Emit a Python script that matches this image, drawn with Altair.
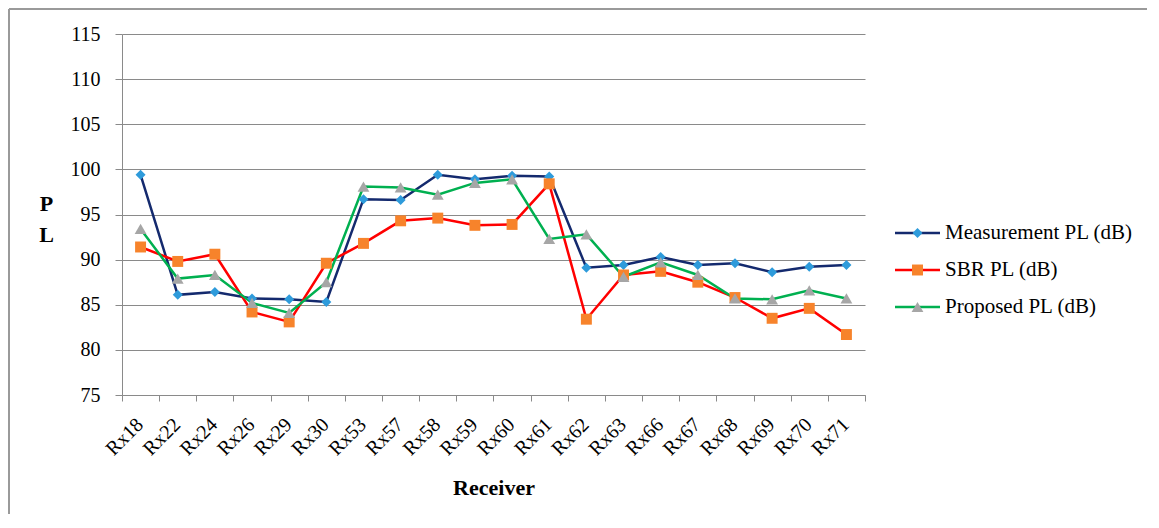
import altair as alt
import pandas as pd

receivers = ["Rx18", "Rx22", "Rx24", "Rx26", "Rx29", "Rx30", "Rx53", "Rx57", "Rx58", "Rx59",
             "Rx60", "Rx61", "Rx62", "Rx63", "Rx66", "Rx67", "Rx68", "Rx69", "Rx70", "Rx71"]
measurement = [99.4, 86.1, 86.4, 85.7, 85.6, 85.3, 96.7, 96.6, 99.4, 98.9,
               99.3, 99.2, 89.1, 89.4, 90.3, 89.4, 89.6, 88.6, 89.2, 89.4]
sbr = [91.4, 89.8, 90.6, 84.2, 83.1, 89.6, 91.8, 94.3, 94.6, 93.8,
       93.9, 98.4, 83.4, 88.3, 88.7, 87.5, 85.8, 83.5, 84.6, 81.7]
proposed = [93.4, 87.9, 88.3, 85.2, 84.1, 87.5, 98.1, 98.0, 97.2, 98.5,
            98.9, 92.3, 92.8, 88.1, 89.7, 88.3, 85.7, 85.6, 86.6, 85.7]
names = ["Measurement PL (dB)", "SBR PL (dB)", "Proposed PL (dB)"]
y_ticks = [75, 80, 85, 90, 95, 100, 105, 110, 115]

line_colors = ["#142A6E", "#FF0000", "#00B050"]
marker_colors = ["#2E9BDB", "#F7832B", "#A6A6A6"]
shapes = ["diamond", "square", "triangle-up"]
sizes = [100, 140, 150]

rows = []
for name, vals in zip(names, [measurement, sbr, proposed]):
    for r, v in zip(receivers, vals):
        rows.append({"receiver": r, "series": name, "value": v})
df = pd.DataFrame(rows)

FONT = "Liberation Serif"
GRAY = "#8a8a8a"

x = alt.X("receiver:N", sort=receivers,
          scale=alt.Scale(type="band", domain=receivers, paddingInner=0, paddingOuter=0),
          axis=alt.Axis(title="Receiver", labelAngle=-45, labelFontSize=20, labelFont=FONT,
                        labelAlign="right", labelBaseline="top", labelOffset=-8,
                        titleFontSize=22, titleFontWeight="bold", titleFont=FONT,
                        tickBand="extent", tickSize=6, labelPadding=13,
                        domainColor=GRAY, tickColor=GRAY, grid=False,
                        titleY=99, titleBaseline="alphabetic",
                        labelColor="black", titleColor="black"))
y = alt.Y("value:Q",
          scale=alt.Scale(domain=[75, 115], nice=False, zero=False),
          axis=alt.Axis(values=y_ticks, title=["P", "L"], titleAngle=0, titleX=-76, titleY=176,
                        titleAlign="center", titleBaseline="alphabetic", titleLineHeight=31,
                        titleFontSize=22, titleFontWeight="bold", titleFont=FONT,
                        labelFontSize=20, labelFont=FONT, tickSize=7, labelPadding=15,
                        gridColor=GRAY, domainColor=GRAY, tickColor=GRAY,
                        labelColor="black", titleColor="black"))

color = alt.Color("series:N", scale=alt.Scale(domain=names, range=line_colors), legend=None)
fill = alt.Fill("series:N", scale=alt.Scale(domain=names, range=marker_colors), legend=None)
shape = alt.Shape("series:N", scale=alt.Scale(domain=names, range=shapes), legend=None)
size = alt.Size("series:N", scale=alt.Scale(domain=names, range=sizes), legend=None)

lines = alt.Chart(df).mark_line(strokeWidth=2.5).encode(x=x, y=y, color=color)
points = alt.Chart(df).mark_point(filled=True, opacity=1, strokeWidth=0).encode(
    x=x, y=y, fill=fill, shape=shape, size=size)
main = alt.layer(lines, points)

leg_df = pd.DataFrame({"series": names})
ly = alt.Y("series:N", scale=alt.Scale(type="point", domain=names, range=[199, 273], padding=0),
           axis=None)
leg_rule = alt.Chart(leg_df).mark_rule(strokeWidth=2.5).encode(
    x=alt.value(773), x2=alt.value(818), y=ly, color=color)
leg_pts = alt.Chart(leg_df).mark_point(filled=True, opacity=1, strokeWidth=0).encode(
    x=alt.value(795.5), y=ly, fill=fill, shape=shape, size=size)
leg_txt = alt.Chart(leg_df).mark_text(align="left", baseline="middle", fontSize=21,
                                      font=FONT, color="black").encode(
    x=alt.value(823), y=ly, text="series:N")
legend = alt.layer(leg_rule, leg_pts, leg_txt)

bdf = pd.DataFrame({"k": [0]})
border_top = alt.Chart(bdf).mark_rule(color="#9a9a9a", strokeWidth=2).encode(
    x=alt.value(-113), x2=alt.value(1025), y=alt.value(-25))
border_left = alt.Chart(bdf).mark_rule(color="#9a9a9a", strokeWidth=2).encode(
    x=alt.value(-113), y=alt.value(-25), y2=alt.value(480))

chart = alt.layer(main, legend, border_top, border_left).resolve_scale(
    y="independent").properties(width=743, height=361, padding=0).configure(
    font=FONT).configure_view(stroke=None)

chart.save("out.html", embed_options={"renderer": "svg", "actions": False})
